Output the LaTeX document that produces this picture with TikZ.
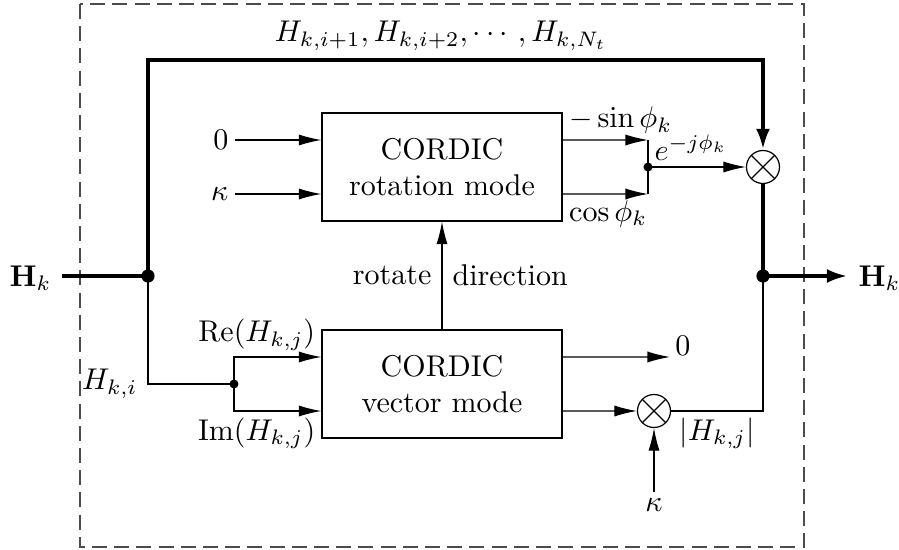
\documentclass[tikz,border=0pt]{standalone}
\usepackage{amsmath}
\usepackage{amssymb}
\usepackage{tikz}
\usetikzlibrary{arrows.meta}
\usetikzlibrary{positioning}

\begin{document}
\begin{tikzpicture}[x=0.3333pt,y=-0.3333pt,
    >={Latex[length=7.5pt,width=3.7pt]},
    cordic/.style={draw,align=center,minimum width=80pt,minimum height=36pt},
    mult/.style={circle,draw,minimum size=11pt,inner sep=0pt,
        path picture={\draw (path picture bounding box.south west) -- (path picture bounding box.north east)
            (path picture bounding box.north west) -- (path picture bounding box.south east);}},
    bus/.style={line width=1.6pt},
    busarrow/.style={line width=1.6pt,-{Latex[length=7pt,width=4.6pt]}},
    lbl/.style={inner sep=2pt},
    frame/.style={black!70,dash pattern=on 5pt off 2.4pt}]
                \useasboundingbox (0,0) rectangle (899,550);
                \draw[frame] (80,4) rectangle (804,547);

                % the two CORDIC blocks
                \node[cordic] (rot) at (442,167) {CORDIC\\rotation mode};
                \node[cordic] (vec) at (442,384) {CORDIC\\vector mode};
                \node[mult] (m1) at (763,167) {};
                \node[mult] (m2) at (654,411) {};

                \coordinate (jl) at (148,276);
                \coordinate (jr) at (763,276);
                \coordinate (tl) at (148,60);
                \coordinate (tr) at (763,60);
                \coordinate (sp) at (234,384);
                \coordinate (ms) at (648,140);
                \coordinate (mc) at (648,194);
                \coordinate (mj) at (648,167);
                \coordinate (cr) at (763,411);
                \coordinate (zend) at (670,357);

                \node[anchor=east] (hin) at (62,278) {$\mathbf{H}_k$};
                \node[anchor=west] (hout) at (848,278) {$\mathbf{H}_k$};
                \node (hrest) at (441,36) {$H_{k,i+1}, H_{k,i+2}, \cdots, H_{k,N_t}$};

                % main bus
                \draw[bus] (hin.east |- jl) -- (jl);
                \draw[busarrow] (jl) -- (tl) -- (tr) -- (m1);
                \draw[bus] (m1) -- (jr);
                \draw[busarrow] (jr) -- (jr -| hout.west);
                \fill (jl) circle (2.2pt);
                \fill (jr) circle (2.2pt);

                % vector mode block
                \draw (jl) |- node[left] {$H_{k,i}$} (sp);
                \fill (sp) circle (1.5pt);
                \draw[->] (sp) |- node[lbl,above,pos=0.63] {$\mathrm{Re}(H_{k,j})$} ([yshift=9pt]vec.west);
                \draw[->] (sp) |- node[lbl,below,pos=0.63] {$\mathrm{Im}(H_{k,j})$} ([yshift=-9pt]vec.west);
                \draw[->] ([yshift=9pt]vec.east) -- (zend);
                \node[lbl] (zero) at (683,346) {$0$};
                \draw[->] ([yshift=-9pt]vec.east) -- (m2);
                \draw (m2) -- node[lbl,below] {$|H_{k,j}|$} (cr) -- (jr);
                \node[lbl] (kb) at (654,505) {$\kappa$};
                \draw[->] (kb) -- (m2);
                \draw[->] (vec) -- node[left] {rotate} node[right] {direction} (rot);

                % rotation mode block
                \node[lbl,anchor=east] (z1) at (235,140) {$0$};
                \node[lbl,anchor=east] (k1) at (235,194) {$\kappa$};
                \draw[->] (z1) -- (rot.west |- z1);
                \draw[->] (k1) -- (rot.west |- k1);
                \draw[->] ([yshift=9pt]rot.east) -- node[lbl,anchor=south west,pos=0] {$-\sin\phi_k$} (ms);
                \draw[->] ([yshift=-9pt]rot.east) -- node[lbl,anchor=north west,pos=0] {$\cos\phi_k$} (mc);
                \draw (ms) -- (mc);
                \fill (mj) circle (1.5pt);
                \draw[->] (mj) -- node[lbl,anchor=south west,pos=0] {$e^{-j\phi_k}$} (m1);
            \end{tikzpicture}
\end{document}
